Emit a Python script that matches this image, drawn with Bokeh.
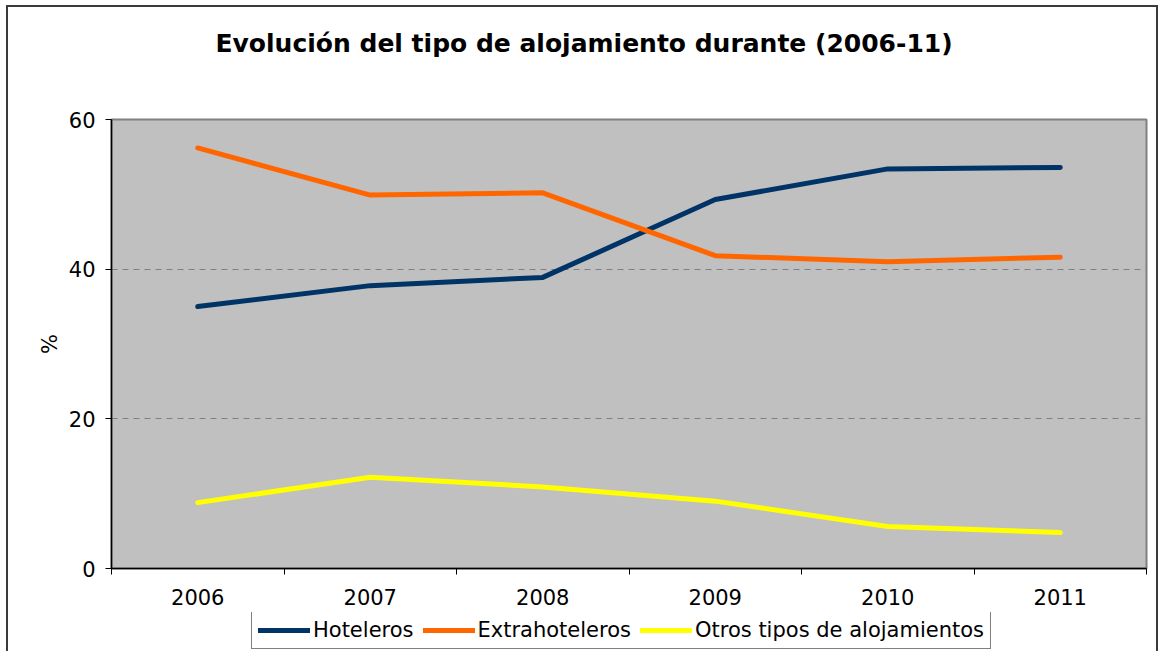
from bokeh.plotting import figure
from bokeh.models import FixedTicker, Legend, LegendItem, Range1d, Title
from bokeh.layouts import column
from bokeh.embed import file_html
from bokeh.resources import INLINE

years = ["2006", "2007", "2008", "2009", "2010", "2011"]
hoteleros = [35.0, 37.8, 38.9, 49.3, 53.4, 53.6]
extrahoteleros = [56.2, 49.9, 50.2, 41.8, 41.0, 41.6]
otros = [8.8, 12.2, 10.9, 9.0, 5.6, 4.8]
series_names = ["Hoteleros", "Extrahoteleros", "Otros tipos de alojamientos"]
series_colors = ["#003366", "#FF6600", "#FFFF00"]
y_ticks = [0, 20, 40, 60]
title_text = "Evolución del tipo de alojamiento durante (2006-11)"
y_label = "%"

FONT = "DejaVu Sans"
n = len(years)
xs = [i + 0.5 for i in range(n)]
series = [hoteleros, extrahoteleros, otros]

p = figure(width=1152, height=646,
           x_range=Range1d(0, n), y_range=Range1d(y_ticks[0], y_ticks[-1]),
           output_backend="svg", toolbar_location=None,
           min_border_left=103, min_border_top=112,
           min_border_right=14, min_border_bottom=85)

p.styles = {"margin-left": "6px", "margin-top": "5px",
            "border-top": "2px solid #3a3a3a",
            "border-left": "2px solid #3a3a3a",
            "border-right": "2px solid #3a3a3a"}

p.background_fill_color = "#C0C0C0"
p.border_fill_color = "white"
p.outline_line_color = "#808080"
p.outline_line_width = 2

# title: spacer title next to the frame, real title above it
p.title.text = ""
spacer = Title(text=" ", text_font=FONT, text_font_size="20px", standoff=31)
p.add_layout(spacer, "above")
main_title = Title(text=title_text, text_font=FONT, text_font_size="25px",
                   text_font_style="bold", text_color="black",
                   align="left", offset=104, standoff=10)
p.add_layout(main_title, "above")

# x axis: labels at category centres, ticks between categories
p.xaxis.ticker = FixedTicker(ticks=xs, minor_ticks=list(range(n + 1)))
p.xaxis.major_label_overrides = {x: y for x, y in zip(xs, years)}
p.xaxis.major_tick_out = 0
p.xaxis.major_tick_in = 0
p.xaxis.minor_tick_out = 6
p.xaxis.minor_tick_in = 0
p.xaxis.minor_tick_line_color = "black"
p.xaxis.axis_line_color = "black"
p.xaxis.axis_line_width = 1.5
p.xaxis.major_label_text_font = FONT
p.xaxis.major_label_text_font_size = "21px"
p.xaxis.major_label_text_color = "black"
p.xaxis.major_label_standoff = 14

# y axis
p.yaxis.ticker = FixedTicker(ticks=y_ticks)
p.yaxis.minor_tick_line_color = None
p.yaxis.major_tick_out = 6
p.yaxis.major_tick_in = 0
p.yaxis.major_tick_line_color = "black"
p.yaxis.axis_line_color = "black"
p.yaxis.axis_line_width = 1.5
p.yaxis.major_label_text_font = FONT
p.yaxis.major_label_text_font_size = "21px"
p.yaxis.major_label_text_color = "black"
p.yaxis.major_label_standoff = 10
p.yaxis.axis_label = y_label
p.yaxis.axis_label_text_font = FONT
p.yaxis.axis_label_text_font_size = "21px"
p.yaxis.axis_label_text_font_style = "normal"
p.yaxis.axis_label_text_color = "black"
p.yaxis.axis_label_standoff = 4

p.xgrid.grid_line_color = None
p.ygrid.grid_line_color = "#808080"
p.ygrid.grid_line_dash = "6 5"
p.ygrid.grid_line_width = 1

for vals, color in zip(series, series_colors):
    p.line(xs, vals, line_color=color, line_width=5,
           line_cap="round", line_join="round")

# legend in its own strip, pulled up over the bottom of the chart
lf = figure(width=1152, height=38, x_range=Range1d(0, 1), y_range=Range1d(0, 1),
            output_backend="svg", toolbar_location=None,
            x_axis_type=None, y_axis_type=None,
            min_border=0, min_border_left=0, min_border_right=0,
            min_border_top=0, min_border_bottom=0)
lf.outline_line_color = None
lf.background_fill_alpha = 0
lf.border_fill_alpha = 0
lf.xgrid.visible = False
lf.ygrid.visible = False
lf.styles = {"margin-top": "-39px", "margin-left": "8px"}

leg_renderers = []
for color in series_colors:
    # legend samples only: points lie outside the strip's ranges
    r = lf.line(x=[-2, -1], y=[-2, -1], line_color=color, line_width=5,
                line_cap="round", line_join="round")
    leg_renderers.append(r)

legend = Legend(items=[LegendItem(label=nm, renderers=[r])
                       for nm, r in zip(series_names, leg_renderers)],
                orientation="horizontal", location=(140, 1))
legend.label_text_font = FONT
legend.label_text_font_size = "21px"
legend.label_text_color = "black"
legend.glyph_width = 52
legend.glyph_height = 24
legend.label_standoff = 3
legend.label_height = 24
legend.spacing = 9
legend.padding = 6
legend.margin = 0
legend.border_line_color = "black"
legend.border_line_width = 1
legend.background_fill_color = "white"
legend.background_fill_alpha = 1
lf.add_layout(legend, "center")

layout = column(p, lf, spacing=0)
open("out.html", "w").write(file_html(layout, INLINE))
